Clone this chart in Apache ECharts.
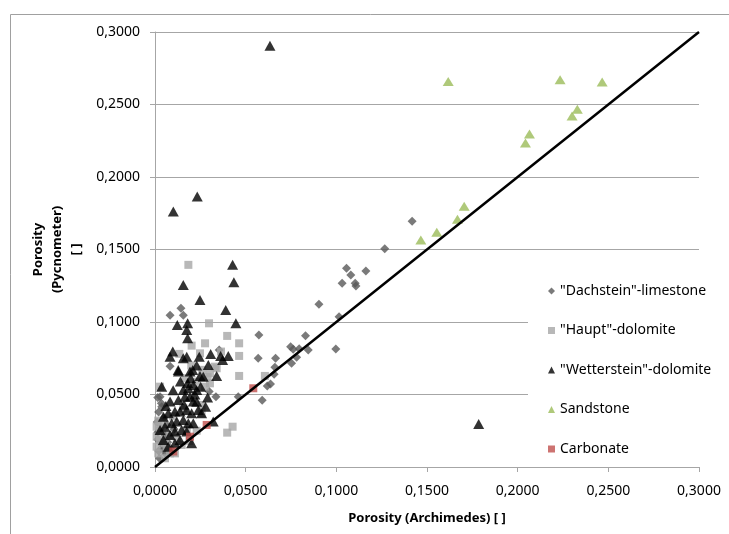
<!DOCTYPE html>
<html><head><meta charset="utf-8">
<script src="https://cdn.jsdelivr.net/npm/echarts@6/dist/echarts.min.js"></script>
<style>html,body{margin:0;padding:0;background:#fff;}#c{width:729px;height:534px;}</style>
</head><body><div id="c"></div>
<script>
const seriesNames = ['"Dachstein"-limestone', '"Haupt"-dolomite', '"Wetterstein"-dolomite', 'Sandstone', 'Carbonate'];
const axisTicks = [0, 0.05, 0.1, 0.15, 0.2, 0.25, 0.3];
const dachstein = [[0.1418,0.1695],[0.1267,0.1506],[0.1056,0.1371],[0.1080,0.1325],[0.1032,0.1268],[0.1104,0.1268],[0.1108,0.1249],[0.1163,0.1352],[0.0904,0.1123],[0.1015,0.1037],[0.0997,0.0814],
[0.0573,0.0911],[0.0569,0.0750],[0.0665,0.0750],[0.0661,0.0688],[0.0657,0.0640],[0.0591,0.0460],[0.0619,0.0559],[0.0637,0.0573],[0.0830,0.0906],[0.0748,0.0830],[0.0762,0.0812],[0.0795,0.0816],[0.0781,0.0757],[0.0753,0.0716],[0.0845,0.0807],
[0.0083,0.1047],[0.0143,0.1095],[0.0156,0.1047],[0.0083,0.0695],[0.0354,0.0807],[0.0299,0.0520],[0.0336,0.0485],[0.0459,0.0485],[0.0028,0.0485],[0.0037,0.0416],
[0.0015,0.048],[0.0035,0.044],[0.002,0.038],[0.005,0.034],[0.0012,0.031],[0.003,0.027],[0.0055,0.022],[0.0015,0.019],[0.004,0.015],[0.002,0.011],[0.006,0.009],[0.0025,0.006],[0.0045,0.012],[0.007,0.017],[0.0085,0.013],[0.0105,0.026],[0.0065,0.029],[0.0015,0.024]];
const haupt = [[0.0184,0.1394],[0.0298,0.0991],[0.0398,0.0904],[0.0464,0.0853],[0.0276,0.0853],[0.0202,0.0837],[0.0464,0.0766],[0.0464,0.0628],[0.0134,0.0780],[0.0248,0.0784],[0.0364,0.0796],[0.0331,0.0692],[0.0340,0.0681],[0.0303,0.0646],[0.0165,0.0612],[0.0303,0.0577],[0.0276,0.0554],[0.0230,0.0589],[0.0028,0.0554],[0.0257,0.0428],[0.0257,0.0370],[0.0156,0.0405],[0.0028,0.0255],[0.0083,0.0221],[0.0055,0.0163],[0.0028,0.0186],[0.0110,0.0094],[0.0147,0.0152],[0.0175,0.0255],[0.0428,0.0278],[0.0398,0.0237],[0.0009,0.0278],[0.0009,0.0209],[0.0009,0.0140],[0.0018,0.0094],[0.0064,0.0140],[0.0083,0.0094],[0.0055,0.0060],[0.0606,0.0628],[0.0018,0.0320],[0.0040,0.0300],[0.0120,0.0200],[0.0190,0.0180],[0.0230,0.0250],[0.0100,0.0350],[0.0290,0.0620],[0.0260,0.0670],[0.0200,0.0700]];
const wetterstein = [[0.0634,0.2905],[0.0101,0.1762],[0.0233,0.1865],[0.1785,0.0297],
[0.0428,0.1394],[0.0435,0.1274],[0.0156,0.1256],[0.0248,0.1152],[0.0390,0.1083],[0.0446,0.0991],[0.0123,0.0980],[0.0180,0.0991],[0.0175,0.0945],[0.0180,0.0888],
[0.0098,0.0796],[0.0083,0.0761],[0.0156,0.0750],[0.0175,0.0761],[0.0244,0.0761],[0.0307,0.0780],[0.0362,0.0766],[0.0404,0.0766],[0.0294,0.0704],[0.0208,0.0669],[0.0128,0.0669],[0.0373,0.0738],[0.0340,0.0628],
[0.0129,0.0658],[0.0193,0.0658],[0.0248,0.0628],[0.0037,0.0554],[0.0156,0.0531],[0.0184,0.0543],[0.0211,0.0566],[0.0230,0.0531],[0.0083,0.0451],[0.0129,0.0462],[0.0165,0.0485],[0.0193,0.0485],[0.0211,0.0451],[0.0046,0.0347],[0.0073,0.0370],[0.0110,0.0382],[0.0138,0.0382],[0.0175,0.0393],[0.0202,0.0370],[0.0239,0.0393],[0.0257,0.0370],[0.0028,0.0255],[0.0055,0.0278],[0.0092,0.0301],[0.0120,0.0313],[0.0156,0.0324],[0.0184,0.0301],[0.0211,0.0301],[0.0321,0.0313],[0.0083,0.0221],[0.0110,0.0244],[0.0147,0.0255],[0.0175,0.0244],[0.0073,0.0140],[0.0110,0.0163],[0.0202,0.0163],[0.0046,0.0186],[0.0138,0.0186],
[0.0279,0.0416],[0.0252,0.0554],[0.0197,0.0612],[0.0266,0.0623],[0.0230,0.0450],[0.0160,0.0430],[0.0100,0.0530],[0.0060,0.0420],[0.0290,0.0480],[0.0220,0.0500],[0.0180,0.0580],[0.0140,0.0590],[0.0230,0.0700]];
const sandstone = [[0.1617,0.2658],[0.2234,0.2670],[0.2466,0.2656],[0.2329,0.2468],[0.2300,0.2420],[0.2065,0.2296],[0.2043,0.2234],[0.1705,0.1799],[0.1668,0.1709],[0.1554,0.1619],[0.1466,0.1566]];
const carbonate = [[0.0101,0.0107],[0.0193,0.0209],[0.0285,0.0290],[0.0542,0.0543]];
const identityLine = [[0, 0], [0.3, 0.3]];

const FONT = '"Noto Sans", "Open Sans", sans-serif';
const fmt = v => v.toFixed(4).replace('.', ',');
const chart = echarts.init(document.getElementById('c'), null, {renderer: 'canvas'});
chart.setOption({
  animation: false,
  backgroundColor: '#fff',
  textStyle: {fontFamily: FONT},
  grid: {left: 155, right: 30, top: 32, bottom: 67, containLabel: false},
  graphic: [{type: 'rect', z: 100, silent: true, shape: {x: 10.5, y: 14.5, width: 800, height: 600}, style: {fill: 'none', stroke: '#a0a0a0', lineWidth: 1}}],
  legend: {
    orient: 'vertical', left: 528, top: 270, padding: [13, 20, 6, 20],
    backgroundColor: '#fff', itemGap: 23.5, itemWidth: 7, itemHeight: 7,
    textStyle: {fontFamily: FONT, fontSize: 14, color: '#000', lineHeight: 16},
    data: [
      {name: seriesNames[0], icon: 'diamond'},
      {name: seriesNames[1], icon: 'rect'},
      {name: seriesNames[2], icon: 'triangle'},
      {name: seriesNames[3], icon: 'triangle'},
      {name: seriesNames[4], icon: 'rect'}
    ]
  },
  xAxis: {
    type: 'value', min: axisTicks[0], max: axisTicks[axisTicks.length - 1], interval: 0.05,
    name: 'Porosity (Archimedes) [ ]', nameLocation: 'middle', nameGap: 45,
    nameTextStyle: {fontFamily: FONT, fontSize: 13, fontWeight: 'bold', color: '#000'},
    axisLine: {lineStyle: {color: '#a6a6a6', width: 1}},
    axisTick: {show: true, length: 5, lineStyle: {color: '#a6a6a6'}},
    axisLabel: {formatter: fmt, fontFamily: FONT, fontSize: 14, color: '#000', margin: 17},
    splitLine: {show: false}
  },
  yAxis: {
    type: 'value', min: axisTicks[0], max: axisTicks[axisTicks.length - 1], interval: 0.05,
    name: 'Porosity\n(Pycnometer)\n[ ]', nameLocation: 'middle', nameRotate: 90, nameGap: 66,
    nameTextStyle: {fontFamily: FONT, fontSize: 13, fontWeight: 'bold', color: '#000', lineHeight: 19},
    axisLine: {show: true, lineStyle: {color: '#a6a6a6', width: 1}},
    axisTick: {show: true, length: 5, lineStyle: {color: '#a6a6a6'}},
    axisLabel: {formatter: fmt, fontFamily: FONT, fontSize: 14, color: '#000', margin: 15},
    splitLine: {show: true, lineStyle: {color: '#a6a6a6', width: 1}}
  },
  series: [
    {name: seriesNames[0], type: 'scatter', data: dachstein, symbol: 'diamond', symbolSize: 9, itemStyle: {color: '#595959'}, z: 2},
    {name: seriesNames[1], type: 'scatter', data: haupt, symbol: 'rect', symbolSize: 8, itemStyle: {color: '#a6a6a6'}, z: 3},
    {name: seriesNames[2], type: 'scatter', data: wetterstein, symbol: 'triangle', symbolSize: [11, 10], itemStyle: {color: '#000'}, z: 4},
    {name: seriesNames[3], type: 'scatter', data: sandstone, symbol: 'triangle', symbolSize: [11, 9], itemStyle: {color: '#9bbb59'}, z: 5},
    {name: seriesNames[4], type: 'scatter', data: carbonate, symbol: 'rect', symbolSize: 8, itemStyle: {color: '#c0504d'}, z: 6},
    {name: 'identity', type: 'line', data: identityLine, symbol: 'none', lineStyle: {color: '#000', width: 2.5}, z: 7, silent: true}
  ]
});
</script></body></html>
